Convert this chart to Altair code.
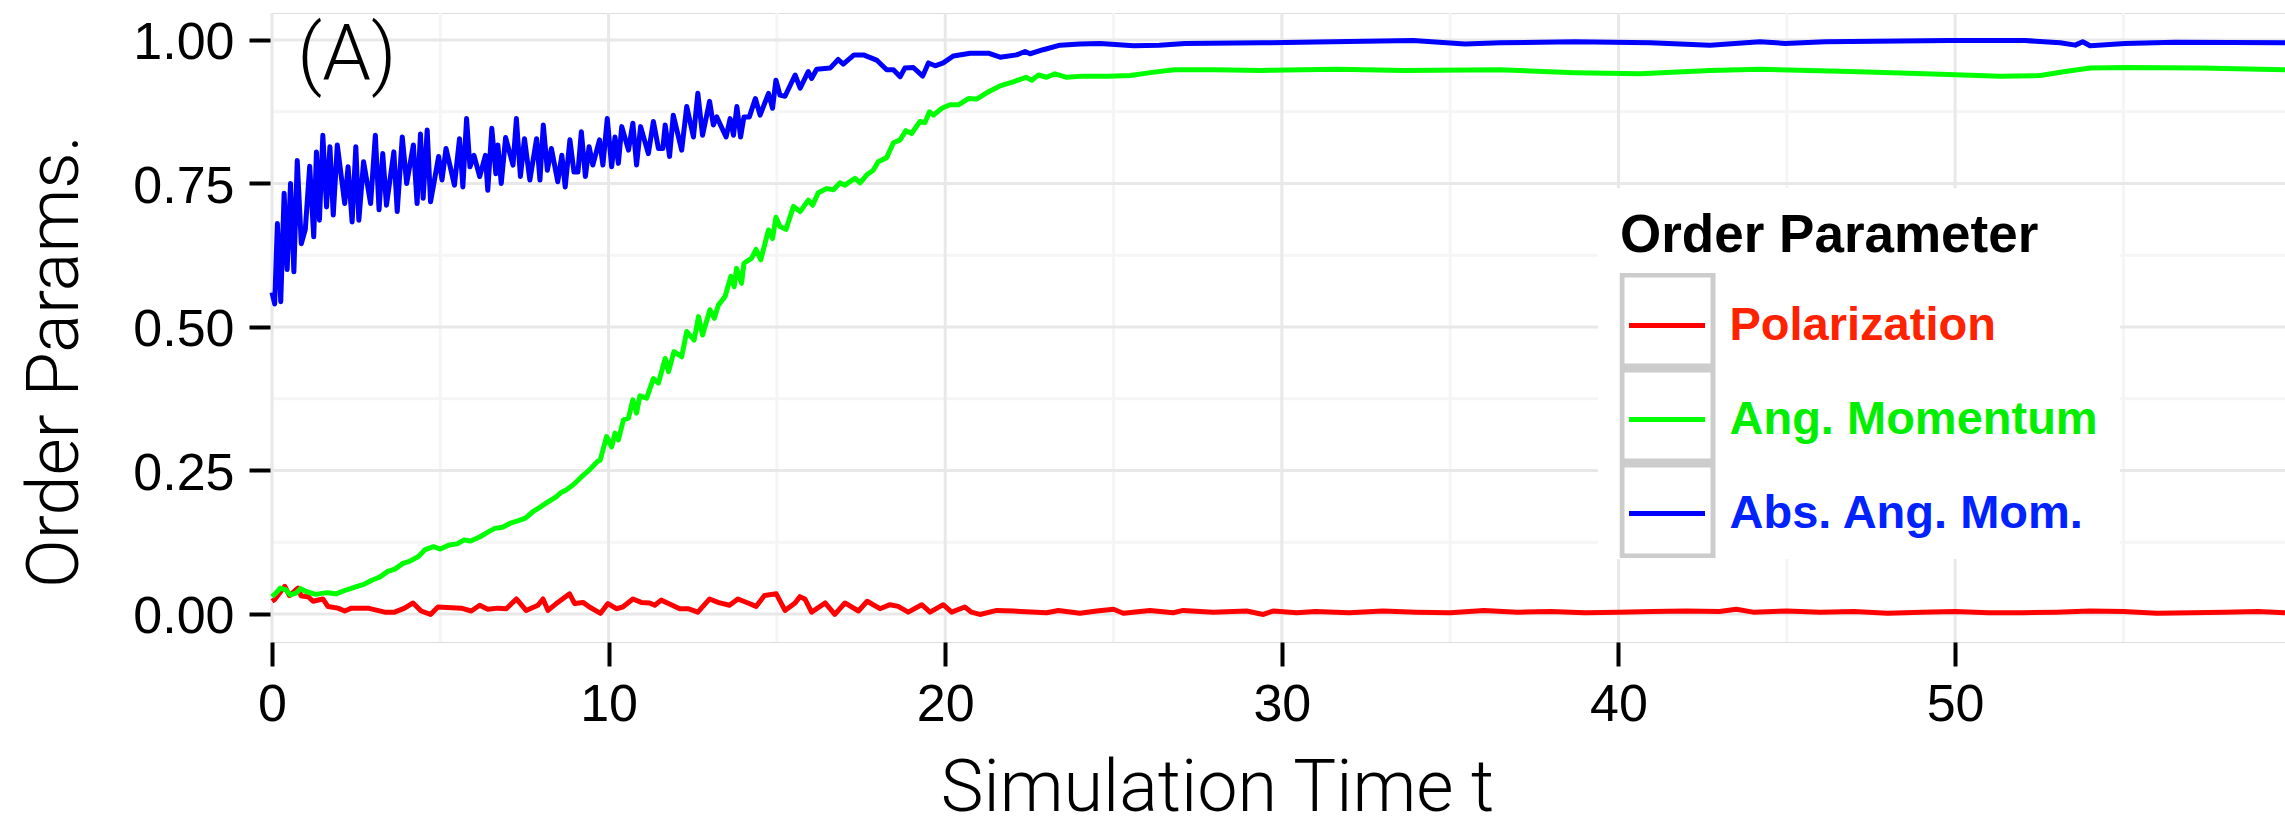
import altair as alt
import pandas as pd

# Order-parameter time series (simulation time t, value)
series_names = ["Polarization", "Ang. Momentum", "Abs. Ang. Mom."]
line_colors = ["#ff0000", "#00ff00", "#0000ff"]
# ids for the frames behind each legend entry
frame_ids = ["frame-1", "frame-2", "frame-3"]

pol_t = [0.0, 0.08, 0.38, 0.52, 0.77, 0.87, 1.07, 1.22, 1.51, 1.66, 1.96, 2.16, 2.36, 2.85,
         3.35, 3.64, 3.94, 4.19, 4.43, 4.71, 4.93, 5.62, 5.92, 6.17, 6.41, 6.71, 6.96, 7.26,
         7.55, 7.9, 8.05, 8.2, 8.49, 8.84, 8.99, 9.24, 9.43, 9.76, 9.98, 10.23, 10.42, 10.72,
         10.97, 11.22, 11.37, 11.56, 11.86, 12.11, 12.36, 12.65, 13.0, 13.25, 13.59, 13.84,
         14.14, 14.38, 14.63, 14.98, 15.24, 15.54, 15.68, 15.83, 16.03, 16.43, 16.72, 17.02,
         17.42, 17.68, 18.06, 18.36, 18.6, 18.9, 19.3, 19.55, 19.94, 20.19, 20.58, 20.78,
         21.03, 21.53, 22.02, 23.01, 23.36, 24.0, 24.5, 25.0, 25.29, 26.08, 26.77, 27.07,
         27.96, 28.95, 29.45, 29.74, 30.44, 31, 32, 33, 34, 35, 36, 37, 38, 39, 40, 41, 42,
         43, 43.5, 44, 45, 46, 47, 48, 49, 50, 51, 52, 53, 54, 55, 56, 57, 58, 59, 59.8]
pol_v = [0.022, 0.025, 0.048, 0.032, 0.045, 0.031, 0.03, 0.022, 0.026, 0.013, 0.01, 0.005,
         0.01, 0.01, 0.003, 0.003, 0.01, 0.019, 0.005, -0.001, 0.012, 0.01, 0.005, 0.015,
         0.008, 0.01, 0.009, 0.026, 0.006, 0.015, 0.026, 0.006, 0.02, 0.035, 0.018, 0.02,
         0.012, 0.001, 0.018, 0.009, 0.012, 0.026, 0.02, 0.019, 0.015, 0.024, 0.016, 0.009,
         0.009, 0.003, 0.026, 0.02, 0.015, 0.026, 0.019, 0.013, 0.032, 0.035, 0.006, 0.019,
         0.03, 0.026, 0.003, 0.019, -0.001, 0.019, 0.005, 0.022, 0.009, 0.016, 0.013, 0.003,
         0.016, 0.003, 0.016, 0.003, 0.012, 0.003, -0.001, 0.006, 0.005, 0.002, 0.006, 0.001,
         0.005, 0.008, 0.001, 0.006, 0.002, 0.006, 0.003, 0.005, -0.001, 0.005, 0.002, 0.004,
         0.002, 0.005, 0.003, 0.002, 0.006, 0.003, 0.004, 0.002, 0.003, 0.004, 0.005, 0.004,
         0.008, 0.003, 0.005, 0.003, 0.004, 0.001, 0.003, 0.004, 0.002, 0.002, 0.003, 0.005,
         0.004, 0.001, 0.002, 0.003, 0.004, 0.002]

ang_t = [0.0, 0.11, 0.25, 0.41, 0.55, 0.71, 0.85, 1.01, 1.3, 1.62, 1.9, 2.22, 2.53, 2.75,
         2.98, 3.2, 3.44, 3.65, 3.89, 4.1, 4.35, 4.55, 4.8, 5.0, 5.26, 5.5, 5.71, 5.9, 6.17,
         6.4, 6.62, 6.85, 7.08, 7.3, 7.53, 7.75, 7.99, 8.2, 8.44, 8.6, 8.74, 8.95, 9.2, 9.45,
         9.66, 9.75, 9.94, 10.09, 10.19, 10.29, 10.44, 10.59, 10.72, 10.83, 10.93, 11.13,
         11.33, 11.48, 11.68, 11.78, 11.94, 12.17, 12.32, 12.54, 12.67, 12.79, 13.01, 13.14,
         13.26, 13.46, 13.63, 13.73, 13.8, 13.95, 14.02, 14.25, 14.38, 14.52, 14.75, 14.87,
         14.97, 15.09, 15.27, 15.49, 15.69, 15.93, 16.06, 16.23, 16.48, 16.68, 16.87, 17.02,
         17.32, 17.47, 17.67, 17.86, 18.01, 18.26, 18.46, 18.66, 18.83, 19.0, 19.25, 19.4,
         19.53, 19.65, 19.9, 20.14, 20.39, 20.69, 20.93, 21.23, 21.63, 22.02, 22.4, 22.57,
         22.77, 23.01, 23.26, 23.61, 24.1, 24.84, 25.5, 26.2, 26.81, 28.0, 29.38, 31.65,
         33.62, 36.48, 38.7, 40.64, 42.72, 44.2, 46.88, 49.11, 51.34, 52.53, 53.27, 54.01,
         55.05, 57.28, 59.8]
ang_v = [0.03, 0.036, 0.045, 0.042, 0.033, 0.036, 0.044, 0.039, 0.034, 0.037, 0.035, 0.042,
         0.048, 0.052, 0.059, 0.064, 0.074, 0.078, 0.088, 0.092, 0.1, 0.112, 0.117, 0.113,
         0.12, 0.122, 0.129, 0.127, 0.134, 0.142, 0.149, 0.151, 0.158, 0.162, 0.167, 0.178,
         0.187, 0.195, 0.204, 0.212, 0.216, 0.225, 0.239, 0.252, 0.265, 0.268, 0.309, 0.291,
         0.315, 0.303, 0.338, 0.341, 0.373, 0.35, 0.38, 0.376, 0.41, 0.402, 0.445, 0.422,
         0.457, 0.448, 0.492, 0.477, 0.518, 0.486, 0.53, 0.515, 0.538, 0.553, 0.588, 0.57,
         0.602, 0.576, 0.611, 0.62, 0.635, 0.617, 0.669, 0.654, 0.691, 0.675, 0.67, 0.71,
         0.701, 0.721, 0.712, 0.734, 0.741, 0.739, 0.751, 0.747, 0.759, 0.751, 0.765, 0.773,
         0.788, 0.795, 0.821, 0.826, 0.842, 0.837, 0.858, 0.856, 0.875, 0.869, 0.881, 0.887,
         0.887, 0.898, 0.897, 0.908, 0.92, 0.927, 0.935, 0.93, 0.939, 0.935, 0.941, 0.935,
         0.937, 0.937, 0.938, 0.944, 0.948, 0.948, 0.947, 0.949, 0.947, 0.948, 0.943, 0.941,
         0.947, 0.949, 0.945, 0.941, 0.937, 0.938, 0.945, 0.951, 0.952, 0.951, 0.948]

abs_t = [0.0, 0.08, 0.16, 0.26, 0.36, 0.45, 0.55, 0.65, 0.75, 0.87, 0.99, 1.12, 1.24, 1.32,
         1.41, 1.51, 1.62, 1.72, 1.82, 1.94, 2.16, 2.26, 2.38, 2.49, 2.58, 2.72, 2.93, 3.07,
         3.18, 3.29, 3.4, 3.62, 3.72, 3.87, 4.0, 4.2, 4.31, 4.41, 4.49, 4.61, 4.71, 4.95,
         5.05, 5.17, 5.42, 5.57, 5.67, 5.78, 5.88, 6.0, 6.17, 6.34, 6.41, 6.53, 6.65, 6.71,
         6.81, 6.94, 7.16, 7.26, 7.38, 7.5, 7.66, 7.86, 7.96, 8.06, 8.18, 8.3, 8.49, 8.61,
         8.71, 8.85, 8.97, 9.09, 9.19, 9.31, 9.42, 9.53, 9.73, 9.83, 9.96, 10.09, 10.19,
         10.29, 10.39, 10.59, 10.72, 10.83, 10.95, 11.18, 11.33, 11.48, 11.61, 11.68, 11.81,
         11.92, 12.17, 12.32, 12.52, 12.65, 12.79, 13.0, 13.11, 13.21, 13.49, 13.61, 13.71,
         13.81, 13.92, 14.02, 14.18, 14.36, 14.5, 14.75, 14.87, 14.97, 15.09, 15.24, 15.54,
         15.69, 15.93, 16.03, 16.18, 16.58, 16.82, 16.97, 17.29, 17.57, 17.96, 18.26, 18.46,
         18.66, 18.8, 19.05, 19.33, 19.5, 19.7, 19.94, 20.24, 20.74, 21.28, 21.63, 22.12,
         22.37, 22.52, 22.91, 23.41, 24.0, 24.6, 25.6, 26.36, 27.12, 29.4, 31.5, 33.9, 35.44,
         36.48, 38.7, 40.94, 42.72, 44.2, 44.95, 46.14, 49.85, 52.08, 53.12, 53.57, 53.79,
         54.01, 55.05, 56.54, 59.8]
abs_v = [0.56, 0.54, 0.68, 0.544, 0.733, 0.6, 0.75, 0.596, 0.79, 0.645, 0.67, 0.78, 0.657,
         0.805, 0.686, 0.834, 0.709, 0.814, 0.695, 0.817, 0.715, 0.779, 0.683, 0.814, 0.686,
         0.788, 0.715, 0.834, 0.704, 0.802, 0.712, 0.805, 0.701, 0.831, 0.75, 0.817, 0.715,
         0.836, 0.724, 0.843, 0.718, 0.797, 0.756, 0.811, 0.747, 0.828, 0.744, 0.863, 0.779,
         0.799, 0.762, 0.799, 0.738, 0.846, 0.767, 0.817, 0.75, 0.83, 0.782, 0.863, 0.762,
         0.828, 0.756, 0.828, 0.756, 0.852, 0.773, 0.811, 0.753, 0.799, 0.744, 0.826, 0.77,
         0.77, 0.84, 0.762, 0.814, 0.782, 0.826, 0.782, 0.863, 0.779, 0.831, 0.785, 0.849,
         0.808, 0.855, 0.782, 0.849, 0.802, 0.858, 0.811, 0.811, 0.852, 0.797, 0.869, 0.808,
         0.884, 0.831, 0.907, 0.834, 0.893, 0.852, 0.866, 0.831, 0.863, 0.834, 0.884, 0.831,
         0.866, 0.866, 0.898, 0.869, 0.907, 0.881, 0.93, 0.904, 0.902, 0.939, 0.916, 0.945,
         0.933, 0.949, 0.951, 0.966, 0.958, 0.974, 0.974, 0.965, 0.948, 0.948, 0.936, 0.951,
         0.952, 0.937, 0.96, 0.955, 0.96, 0.972, 0.977, 0.977, 0.97, 0.974, 0.98, 0.976,
         0.983, 0.991, 0.993, 0.994, 0.99, 0.991, 0.994, 0.995, 0.997, 0.999, 0.993, 0.995,
         0.997, 0.995, 0.991, 0.997, 0.994, 0.997, 0.999, 0.999, 0.995, 0.991, 0.997, 0.99,
         0.994, 0.996, 0.995]

# Grid positions
x_major = [0, 10, 20, 30, 40, 50]
x_minor = [5, 15, 25, 35, 45, 55]
y_major = [0.0, 0.25, 0.5, 0.75, 1.0]
y_minor = [0.125, 0.375, 0.625, 0.875]

rows = []
for name, fid, ts, vs in zip(series_names, frame_ids,
                             [pol_t, ang_t, abs_t], [pol_v, ang_v, abs_v]):
    for t, v in zip(ts, vs):
        rows.append({"t": t, "v": v, "series": name, "frame": fid})
df = pd.DataFrame(rows)

x_scale = alt.Scale(domain=[0, 59.8], nice=False, zero=False)
y_scale = alt.Scale(domain=[-0.049, 1.047], nice=False, zero=False)

TICK_FONT = "Liberation Sans"
TITLE_FONT = "Roboto"

x_axis = alt.Axis(
    values=x_major, format="d", grid=False, domain=False,
    labelFont=TICK_FONT, labelFontSize=52, labelColor="black", labelPadding=13,
    labelFlush=False, tickColor="black", tickWidth=4, tickSize=24,
    title="Simulation Time t", titleFont=TITLE_FONT, titleFontWeight=300,
    titleFontSize=72, titleColor="black", titleX=945, titleY=168,
    titleBaseline="alphabetic",
)
y_axis = alt.Axis(
    values=y_major, format=".2f", grid=False, domain=False,
    labelFont=TICK_FONT, labelFontSize=52, labelColor="black", labelPadding=15,
    labelOffset=3, tickColor="black", tickWidth=4, tickSize=23,
    title="Order Params.", titleFont=TITLE_FONT, titleFontWeight=300,
    titleFontSize=72, titleColor="black", titleX=-195, titleY=348,
    titleBaseline="alphabetic",
)

X = alt.X("t:Q", scale=x_scale, axis=x_axis)
Y = alt.Y("v:Q", scale=y_scale, axis=y_axis)

def vgrid(values, color):
    return alt.Chart(pd.DataFrame({"t": values})).mark_rule(
        color=color, strokeWidth=3).encode(x=X)

def hgrid(values, color):
    return alt.Chart(pd.DataFrame({"v": values})).mark_rule(
        color=color, strokeWidth=3).encode(y=Y)

minor_color = "#f5f5f5"
major_color = "#e8e8e8"

lines = alt.Chart(df).mark_line(strokeWidth=5, strokeJoin="round").encode(
    x=X, y=Y,
    color=alt.Color(
        "series:N",
        scale=alt.Scale(domain=series_names, range=line_colors),
        sort=series_names,
        legend=alt.Legend(
            orient="none", legendX=1326, legendY=175, padding=22,
            fillColor="white",
            title="Order Parameter", titleFont=TICK_FONT, titleFontSize=53,
            titleFontWeight="bold", titleColor="black", titlePadding=22,
            titleLimit=1000,
            labelFont=TICK_FONT, labelFontSize=47, labelFontWeight="bold",
            labelLimit=1000, labelOffset=22,
            labelColor=alt.ExprRef(
                expr="datum.label == 'Polarization' ? '#ff2200' : "
                     "(datum.label == 'Ang. Momentum' ? '#00ee00' : '#0022ff')"),
            symbolType="stroke", symbolSize=5776, symbolStrokeWidth=5,
            symbolOffset=6.5, rowPadding=30,
        ),
    ),
    detail="series:N",
)

# Grey key frames, drawn as a second legend on a shape channel
key_boxes = alt.Chart(df).transform_filter("datum.t < 0").mark_point(
    shape="square", filled=False, color="#cccccc", strokeWidth=5, opacity=1).encode(
    x=X, y=Y,
    shape=alt.Shape(
        "frame:N",
        scale=alt.Scale(domain=frame_ids, range=["square", "square", "square"]),
        legend=alt.Legend(
            orient="none", legendX=1347.5, legendY=260, padding=0,
            title=None, labelExpr="''", labelFontSize=1,
            symbolSize=8281, symbolStrokeWidth=5, symbolStrokeColor="#cccccc",
            symbolFillColor="transparent", symbolOpacity=1, rowPadding=0,
            clipHeight=95, zindex=1,
        ),
    ),
)

panel_label = alt.Chart(pd.DataFrame({"t": [0.75], "v": [0.930], "txt": ["(A)"]})).mark_text(
    font=TITLE_FONT, fontWeight=300, fontSize=78, color="black",
    align="left", baseline="alphabetic").encode(x=X, y=Y, text="txt:N")

chart = alt.layer(
    vgrid(x_minor, minor_color), hgrid(y_minor, minor_color),
    vgrid(x_major, major_color), hgrid(y_major, major_color),
    lines, key_boxes, panel_label,
).properties(
    width=2013, height=629,
    autosize=alt.AutoSizeParams(type="none"),
    padding={"left": 272, "top": 13, "right": 0, "bottom": 187},
).configure_view(
    stroke="#808080", strokeWidth=3,
).configure(background="white")

chart.save("out.html", embed_options={"renderer": "svg", "actions": False})
